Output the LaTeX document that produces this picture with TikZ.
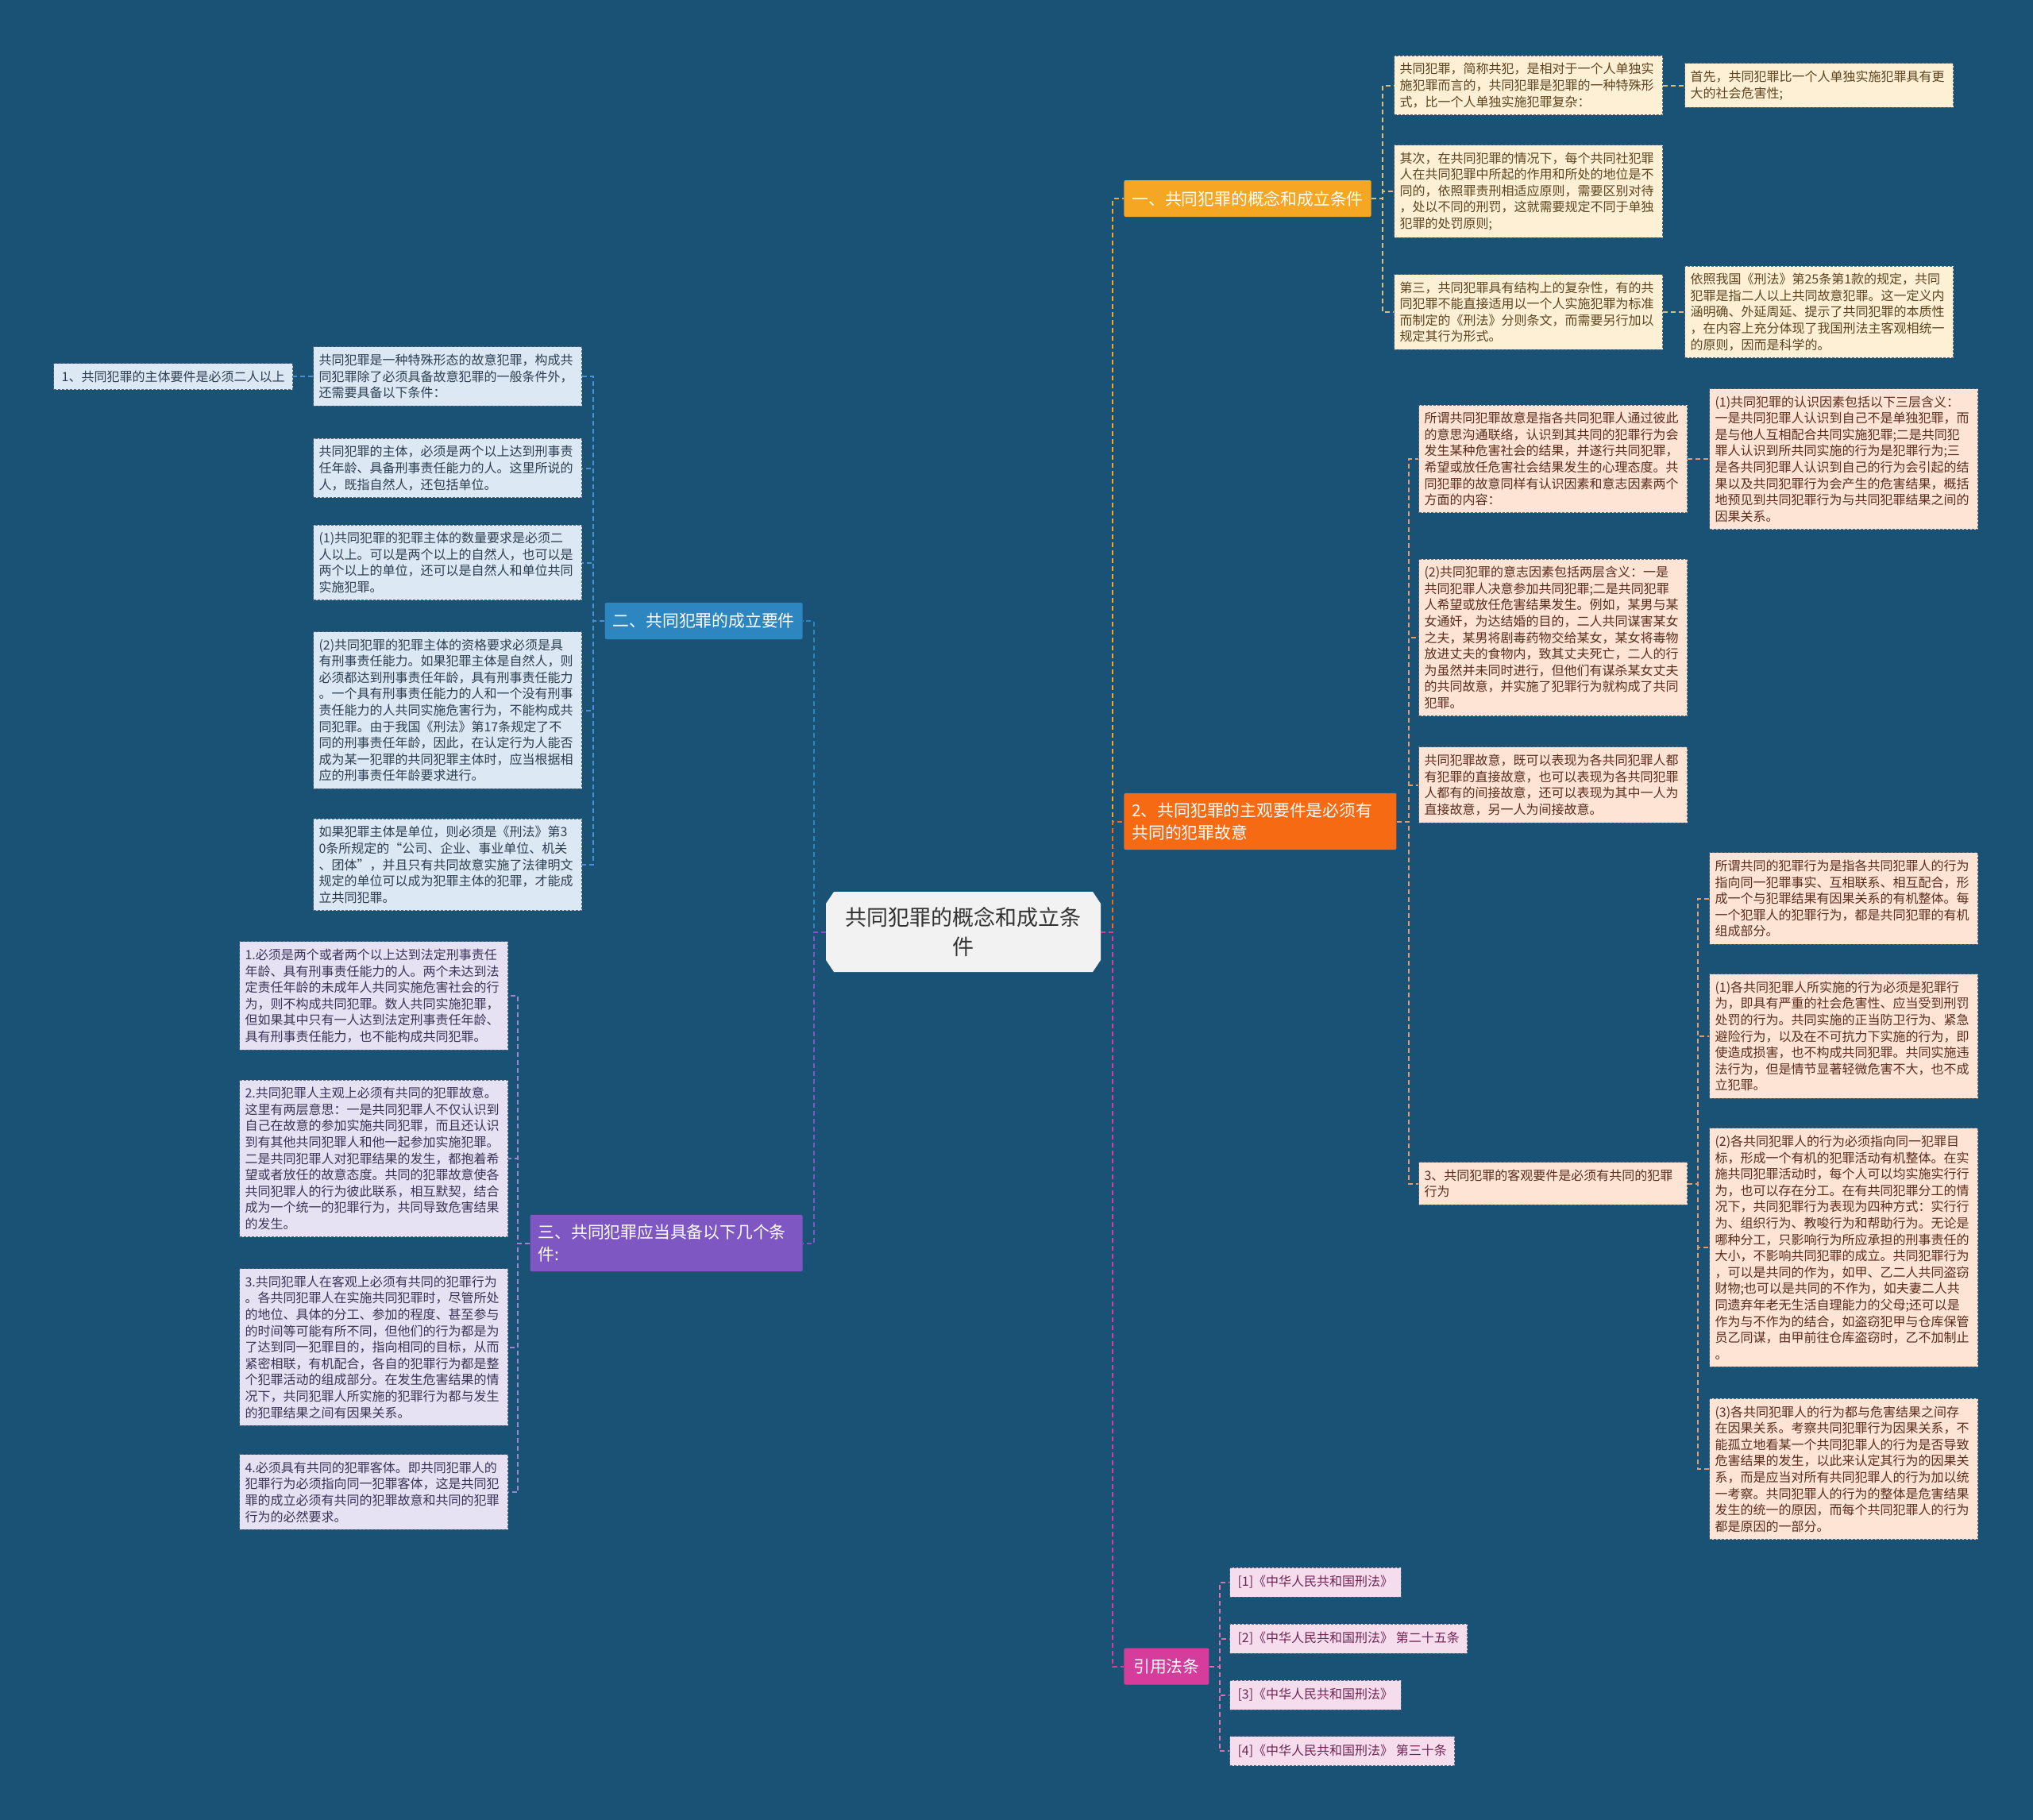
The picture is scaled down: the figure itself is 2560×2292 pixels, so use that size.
\documentclass[tikz,border=0pt]{standalone}
\usepackage{fontspec}
\newfontfamily\cjk{Noto Sans CJK SC}
\definecolor{bg}{HTML}{1A5276}
\definecolor{cfill}{HTML}{F2F2F2}
\definecolor{o1}{HTML}{F5A623}
\definecolor{o2}{HTML}{F76A14}
\definecolor{bl}{HTML}{2E86C1}
\definecolor{pu}{HTML}{7E57C2}
\definecolor{pk}{HTML}{D63C9B}
\definecolor{yfill}{HTML}{FDF0D5}
\definecolor{ytext}{HTML}{5E4420}
\definecolor{yline}{HTML}{D9BE7E}
\definecolor{pfill}{HTML}{FEE4D4}
\definecolor{ptext}{HTML}{5A2D1E}
\definecolor{pline}{HTML}{E59A6E}
\definecolor{bfill}{HTML}{DCE8F4}
\definecolor{btext}{HTML}{2C3E50}
\definecolor{bline}{HTML}{4A90D0}
\definecolor{lfill}{HTML}{E6E2F3}
\definecolor{ltext}{HTML}{3B3355}
\definecolor{lline}{HTML}{9B87D0}
\definecolor{rfill}{HTML}{F6DDEE}
\definecolor{rtext}{HTML}{6E2452}
\definecolor{rline}{HTML}{D870B0}
\definecolor{boxdraw}{HTML}{56687A}
\begin{document}
\begin{tikzpicture}[x=0.5pt,y=-0.5pt,
  tbase/.style={font=\cjk\fontsize{8}{10.3}\selectfont, text width=162pt, align=left,
    inner xsep=3.5pt, inner ysep=4.5pt, draw=boxdraw, dash pattern=on 1.5pt off 1pt, line width=0.5pt},
  ybox/.style={tbase, fill=yfill, text=ytext},
  pbox/.style={tbase, fill=pfill, text=ptext},
  bbox/.style={tbase, fill=bfill, text=btext},
  lbox/.style={tbase, fill=lfill, text=ltext},
  rbox/.style={font=\cjk\fontsize{8}{10.3}\selectfont, fill=rfill, text=rtext, draw=boxdraw,
    dash pattern=on 1.5pt off 1pt, line width=0.5pt, inner xsep=5pt, inner ysep=3pt, minimum height=18.5pt},
  brn/.style={font=\cjk\fontsize{10.4}{14}\selectfont, text=white, align=left, inner xsep=5pt,
    inner ysep=6pt, minimum height=23pt, rounded corners=1pt},
  conn/.style={line width=1pt, dash pattern=on 3pt off 2pt}
]
\fill[bg] (0,0) rectangle (2560,2292);
\useasboundingbox (0,0) rectangle (2560,2292);

% centre
\fill[cfill] (1050,1123) -- (1376,1123) -- (1386,1138) -- (1386,1209) -- (1376,1224)
  -- (1050,1224) -- (1040,1209) -- (1040,1138) -- cycle;
\node[font=\cjk\fontsize{13.5}{18.8}\selectfont, text=black!80, align=center,
  minimum width=173pt, minimum height=50.5pt, inner sep=0pt] (c) at (1213,1173.5)
  {共同犯罪的概念和成立条\\件};

% main branches
\node[brn, fill=o1, anchor=west, minimum width=155.5pt, align=center] (b1) at (1415,250) {一、共同犯罪的概念和成立条件};
\node[brn, fill=o2, anchor=west, text width=161.5pt] (b2) at (1415,1034.5) {2、共同犯罪的主观要件是必须有\\共同的犯罪故意};
\node[brn, fill=bl, anchor=east, minimum width=124pt, align=center] (b3) at (1011,782) {二、共同犯罪的成立要件};
\node[brn, fill=pu, anchor=east, text width=161.5pt] (b4) at (1011,1565.5) {三、共同犯罪应当具备以下几个条\\件:};
\node[brn, fill=pk, anchor=west, minimum width=53.5pt, align=center] (b5) at (1415,2098.5) {引用法条};

% branch 1 children
\node[ybox, anchor=west] (b1a) at (1755,107.5) {共同犯罪，简称共犯，是相对于一个人单独实\\施犯罪而言的，共同犯罪是犯罪的一种特殊形\\式，比一个人单独实施犯罪复杂：};
\node[ybox, anchor=west] (b1ag) at (2121,107.5) {首先，共同犯罪比一个人单独实施犯罪具有更\\大的社会危害性;};
\node[ybox, anchor=west] (b1b) at (1755,241) {其次，在共同犯罪的情况下，每个共同社犯罪\\人在共同犯罪中所起的作用和所处的地位是不\\同的，依照罪责刑相适应原则，需要区别对待\\，处以不同的刑罚，这就需要规定不同于单独\\犯罪的处罚原则;};
\node[ybox, anchor=west] (b1c) at (1755,393) {第三，共同犯罪具有结构上的复杂性，有的共\\同犯罪不能直接适用以一个人实施犯罪为标准\\而制定的《刑法》分则条文，而需要另行加以\\规定其行为形式。};
\node[ybox, anchor=west] (b1cg) at (2121,393) {依照我国《刑法》第25条第1款的规定，共同\\犯罪是指二人以上共同故意犯罪。这一定义内\\涵明确、外延周延、提示了共同犯罪的本质性\\，在内容上充分体现了我国刑法主客观相统一\\的原则，因而是科学的。};

% branch 2 children
\node[pbox, anchor=west] (b2a) at (1786,578) {所谓共同犯罪故意是指各共同犯罪人通过彼此\\的意思沟通联络，认识到其共同的犯罪行为会\\发生某种危害社会的结果，并遂行共同犯罪，\\希望或放任危害社会结果发生的心理态度。共\\同犯罪的故意同样有认识因素和意志因素两个\\方面的内容：};
\node[pbox, anchor=west] (b2ag) at (2152,578) {(1)共同犯罪的认识因素包括以下三层含义：\\一是共同犯罪人认识到自己不是单独犯罪，而\\是与他人互相配合共同实施犯罪;二是共同犯\\罪人认识到所共同实施的行为是犯罪行为;三\\是各共同犯罪人认识到自己的行为会引起的结\\果以及共同犯罪行为会产生的危害结果，概括\\地预见到共同犯罪行为与共同犯罪结果之间的\\因果关系。};
\node[pbox, anchor=west] (b2b) at (1786,803) {(2)共同犯罪的意志因素包括两层含义：一是\\共同犯罪人决意参加共同犯罪;二是共同犯罪\\人希望或放任危害结果发生。例如，某男与某\\女通奸，为达结婚的目的，二人共同谋害某女\\之夫，某男将剧毒药物交给某女，某女将毒物\\放进丈夫的食物内，致其丈夫死亡，二人的行\\为虽然并未同时进行，但他们有谋杀某女丈夫\\的共同故意，并实施了犯罪行为就构成了共同\\犯罪。};
\node[pbox, anchor=west] (b2c) at (1786,988.5) {共同犯罪故意，既可以表现为各共同犯罪人都\\有犯罪的直接故意，也可以表现为各共同犯罪\\人都有的间接故意，还可以表现为其中一人为\\直接故意，另一人为间接故意。};
\node[pbox, anchor=west] (b2d) at (1786,1490.5) {3、共同犯罪的客观要件是必须有共同的犯罪\\行为};
\node[pbox, anchor=west] (b2d1) at (2152,1131.5) {所谓共同的犯罪行为是指各共同犯罪人的行为\\指向同一犯罪事实、互相联系、相互配合，形\\成一个与犯罪结果有因果关系的有机整体。每\\一个犯罪人的犯罪行为，都是共同犯罪的有机\\组成部分。};
\node[pbox, anchor=west] (b2d2) at (2152,1305) {(1)各共同犯罪人所实施的行为必须是犯罪行\\为，即具有严重的社会危害性、应当受到刑罚\\处罚的行为。共同实施的正当防卫行为、紧急\\避险行为，以及在不可抗力下实施的行为，即\\使造成损害，也不构成共同犯罪。共同实施违\\法行为，但是情节显著轻微危害不大，也不成\\立犯罪。};
\node[pbox, anchor=west] (b2d3) at (2152,1571) {(2)各共同犯罪人的行为必须指向同一犯罪目\\标，形成一个有机的犯罪活动有机整体。在实\\施共同犯罪活动时，每个人可以均实施实行行\\为，也可以存在分工。在有共同犯罪分工的情\\况下，共同犯罪行为表现为四种方式：实行行\\为、组织行为、教唆行为和帮助行为。无论是\\哪种分工，只影响行为所应承担的刑事责任的\\大小，不影响共同犯罪的成立。共同犯罪行为\\，可以是共同的作为，如甲、乙二人共同盗窃\\财物;也可以是共同的不作为，如夫妻二人共\\同遗弃年老无生活自理能力的父母;还可以是\\作为与不作为的结合，如盗窃犯甲与仓库保管\\员乙同谋，由甲前往仓库盗窃时，乙不加制止\\。};
\node[pbox, anchor=west] (b2d4) at (2152,1850) {(3)各共同犯罪人的行为都与危害结果之间存\\在因果关系。考察共同犯罪行为因果关系，不\\能孤立地看某一个共同犯罪人的行为是否导致\\危害结果的发生，以此来认定其行为的因果关\\系，而是应当对所有共同犯罪人的行为加以统\\一考察。共同犯罪人的行为的整体是危害结果\\发生的统一的原因，而每个共同犯罪人的行为\\都是原因的一部分。};

% branch 3 children (blue)
\node[bbox, anchor=east] (l1a) at (733,474) {共同犯罪是一种特殊形态的故意犯罪，构成共\\同犯罪除了必须具备故意犯罪的一般条件外，\\还需要具备以下条件：};
\node[font=\cjk\fontsize{8}{10.3}\selectfont, fill=bfill, text=btext, draw=boxdraw,
  dash pattern=on 1.5pt off 1pt, line width=0.5pt, inner xsep=5pt, minimum height=16.5pt,
  anchor=east] (l1ag) at (369,474) {1、共同犯罪的主体要件是必须二人以上};
\node[bbox, anchor=east] (l1b) at (733,589.5) {共同犯罪的主体，必须是两个以上达到刑事责\\任年龄、具备刑事责任能力的人。这里所说的\\人，既指自然人，还包括单位。};
\node[bbox, anchor=east] (l1c) at (733,708.5) {(1)共同犯罪的犯罪主体的数量要求是必须二\\人以上。可以是两个以上的自然人，也可以是\\两个以上的单位，还可以是自然人和单位共同\\实施犯罪。};
\node[bbox, anchor=east] (l1d) at (733,894.5) {(2)共同犯罪的犯罪主体的资格要求必须是具\\有刑事责任能力。如果犯罪主体是自然人，则\\必须都达到刑事责任年龄，具有刑事责任能力\\。一个具有刑事责任能力的人和一个没有刑事\\责任能力的人共同实施危害行为，不能构成共\\同犯罪。由于我国《刑法》第17条规定了不\\同的刑事责任年龄，因此，在认定行为人能否\\成为某一犯罪的共同犯罪主体时，应当根据相\\应的刑事责任年龄要求进行。};
\node[bbox, anchor=east] (l1e) at (733,1089) {如果犯罪主体是单位，则必须是《刑法》第3\\0条所规定的“公司、企业、事业单位、机关\\、团体”，并且只有共同故意实施了法律明文\\规定的单位可以成为犯罪主体的犯罪，才能成\\立共同犯罪。};

% branch 4 children (purple)
\node[lbox, anchor=east] (l2a) at (640,1254) {1.必须是两个或者两个以上达到法定刑事责任\\年龄、具有刑事责任能力的人。两个未达到法\\定责任年龄的未成年人共同实施危害社会的行\\为，则不构成共同犯罪。数人共同实施犯罪，\\但如果其中只有一人达到法定刑事责任年龄、\\具有刑事责任能力，也不能构成共同犯罪。};
\node[lbox, anchor=east] (l2b) at (640,1459) {2.共同犯罪人主观上必须有共同的犯罪故意。\\这里有两层意思：一是共同犯罪人不仅认识到\\自己在故意的参加实施共同犯罪，而且还认识\\到有其他共同犯罪人和他一起参加实施犯罪。\\二是共同犯罪人对犯罪结果的发生，都抱着希\\望或者放任的故意态度。共同的犯罪故意使各\\共同犯罪人的行为彼此联系，相互默契，结合\\成为一个统一的犯罪行为，共同导致危害结果\\的发生。};
\node[lbox, anchor=east] (l2c) at (640,1696.5) {3.共同犯罪人在客观上必须有共同的犯罪行为\\。各共同犯罪人在实施共同犯罪时，尽管所处\\的地位、具体的分工、参加的程度、甚至参与\\的时间等可能有所不同，但他们的行为都是为\\了达到同一犯罪目的，指向相同的目标，从而\\紧密相联，有机配合，各自的犯罪行为都是整\\个犯罪活动的组成部分。在发生危害结果的情\\况下，共同犯罪人所实施的犯罪行为都与发生\\的犯罪结果之间有因果关系。};
\node[lbox, anchor=east] (l2d) at (640,1879) {4.必须具有共同的犯罪客体。即共同犯罪人的\\犯罪行为必须指向同一犯罪客体，这是共同犯\\罪的成立必须有共同的犯罪故意和共同的犯罪\\行为的必然要求。};

% references
\node[rbox, anchor=west] (r1) at (1548,1992.5) {[1]《中华人民共和国刑法》};
\node[rbox, anchor=west] (r2) at (1548,2063.5) {[2]《中华人民共和国刑法》 第二十五条};
\node[rbox, anchor=west] (r3) at (1548,2134.5) {[3]《中华人民共和国刑法》};
\node[rbox, anchor=west] (r4) at (1548,2205) {[4]《中华人民共和国刑法》 第三十条};

% connectors from centre
\draw[conn, o1] (c.east) -- ++(15,0) |- (b1.west);
\draw[conn, o2] (c.east) -- ++(15,0) |- (b2.west);
\draw[conn, pk] (c.east) -- ++(15,0) |- (b5.west);
\draw[conn, bl] (c.west) -- ++(-15,0) |- (b3.east);
\draw[conn, pu] (c.west) -- ++(-15,0) |- (b4.east);

% branch 1
\foreach \n in {b1a,b1b,b1c} \draw[conn, yline] (b1.east) -- ++(14,0) |- (\n.west);
\draw[conn, yline] (b1a.east) -- (b1a.east -| b1ag.west);
\draw[conn, yline] (b1c.east) -- (b1c.east -| b1cg.west);

% branch 2
\foreach \n in {b2a,b2b,b2c,b2d} \draw[conn, pline] (b2.east) -- ++(15,0) |- (\n.west);
\draw[conn, pline] (b2a.east) -- (b2a.east -| b2ag.west);
\foreach \n in {b2d1,b2d2,b2d3,b2d4} \draw[conn, pline] (b2d.east) -- ++(13,0) |- (\n.west);

% branch 3
\foreach \n in {l1a,l1b,l1c,l1d,l1e} \draw[conn, bline] (b3.west) -- ++(-14,0) |- (\n.east);
\draw[conn, bline] (l1a.west) -- (l1a.west -| l1ag.east);

% branch 4
\foreach \n in {l2a,l2b,l2c,l2d} \draw[conn, lline] (b4.west) -- ++(-15,0) |- (\n.east);

% references
\foreach \n in {r1,r2,r3,r4} \draw[conn, rline] (b5.east) -- ++(13,0) |- (\n.west);
\end{tikzpicture}
\end{document}
